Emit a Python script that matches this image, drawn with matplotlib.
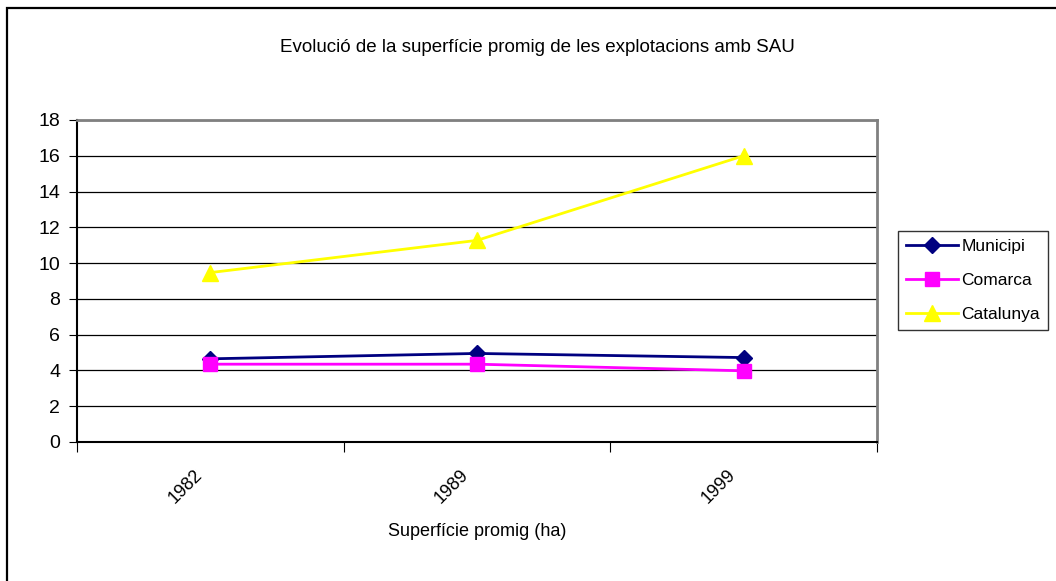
import matplotlib
matplotlib.use("Agg")
import matplotlib.pyplot as plt
import matplotlib.transforms as mtransforms
from matplotlib.patches import Rectangle

years = ["1982", "1989", "1999"]
municipi = [4.65, 4.95, 4.72]
comarca = [4.35, 4.35, 3.98]
catalunya = [9.47, 11.27, 16.0]

plt.rcParams["font.family"] = ["Liberation Sans", "DejaVu Sans"]

fig = plt.figure(figsize=(10.56, 5.81), dpi=100)
ax = fig.add_axes([77 / 1056, 1 - 442 / 581, 800 / 1056, 322 / 581])

# border round the chart, cut off at right and bottom like the original
fig.patches.append(Rectangle((7 / 1056, -0.1), 1.2, 1 - 8 / 581 + 0.1,
                             transform=fig.transFigure, fill=False,
                             edgecolor="black", linewidth=1.6))

x = [0.5, 1.5, 2.5]
ax.plot(x, municipi, color="#000080", marker="D", markersize=8, linewidth=2, label="Municipi")
ax.plot(x, comarca, color="#FF00FF", marker="s", markersize=10, linewidth=2, label="Comarca")
ax.plot(x, catalunya, color="#FFFF00", marker="^", markersize=11, linewidth=2, label="Catalunya")

ax.set_xlim(0, 3)
ax.set_ylim(0, 18)
ax.set_yticks(range(0, 19, 2))
# ticks sit between the categories, like excel
ax.set_xticks([0, 1, 2, 3])
ax.set_xticklabels([])
ax.tick_params(axis="x", which="major", length=7, direction="out", color="black")
ax.tick_params(axis="y", length=6, direction="out", labelsize=14, pad=6)

# category labels, rotated
shift = mtransforms.ScaledTranslation(-17 / 100, -24 / 100, fig.dpi_scale_trans)
for xi, yr in zip(x, years):
    ax.text(xi, 0, yr, transform=ax.get_xaxis_transform() + shift, rotation=45,
            ha="right", va="top", rotation_mode="anchor", fontsize=13)

ax.yaxis.grid(True, color="black", linewidth=0.9)
ax.set_axisbelow(True)
for s in ["top", "right"]:
    ax.spines[s].set_color("#808080")
    ax.spines[s].set_linewidth(2)
for s in ["left", "bottom"]:
    ax.spines[s].set_color("black")
    ax.spines[s].set_linewidth(1.5)

fig.text(537 / 1056, 1 - 47 / 581, "Evolució de la superfície promig de les explotacions amb SAU",
         ha="center", va="center", fontsize=13.5)
ax.set_xlabel("Superfície promig (ha)", fontsize=13)
ax.xaxis.set_label_coords(0.5, -(531 - 442) / 322)
ax.xaxis.label.set_va("center")

leg = ax.legend(loc="center left", bbox_to_anchor=(898 / 1056, 1 - 280.5 / 581),
                bbox_transform=fig.transFigure, borderaxespad=0, fontsize=12.5,
                frameon=True, fancybox=False, edgecolor="black", handlelength=3.0,
                borderpad=0.45, labelspacing=1.1, handletextpad=0.2)
leg.get_frame().set_linewidth(1)

fig.savefig("out.png", dpi=100)
